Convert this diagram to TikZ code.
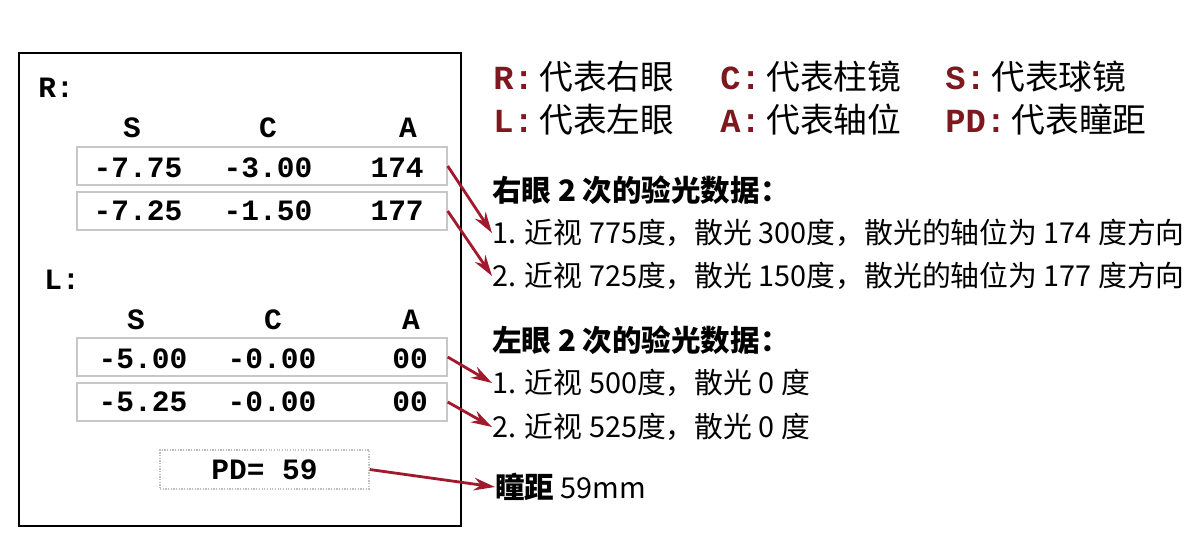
\documentclass[tikz,border=0pt]{standalone}
\usepackage{fontspec}
\usetikzlibrary{arrows.meta}
\newfontfamily\cjkfam{Noto Sans CJK SC}
\newfontfamily\monofam{Liberation Mono}
\newcommand\numfont{\monofam\bfseries\fontsize{21pt}{24pt}\selectfont}
\newcommand\legfont{\cjkfam\fontsize{24pt}{27pt}\selectfont}
\newcommand\txtfont{\cjkfam\fontsize{20.5pt}{23pt}\selectfont}
\newcommand\headfont{\cjkfam\bfseries\fontsize{21pt}{24pt}\selectfont}
\newcommand\key[1]{{\monofam\bfseries\color{keyred}#1}}
\definecolor{keyred}{RGB}{125,25,30}
\definecolor{ptrred}{RGB}{160,25,45}
\tikzset{
  frame/.style={draw=black, line width=1.6pt},
  rowbox/.style={draw=black!22, line width=0.9pt, minimum width=9.25cm, minimum height=0.95cm, inner sep=0pt},
  pdbox/.style={draw=black!25, densely dotted, line width=0.9pt, minimum width=5.225cm, minimum height=0.975cm, inner sep=0pt, font=\numfont},
  num/.style={font=\numfont, inner sep=0pt},
  leg/.style={anchor=west, inner sep=0pt, font=\legfont},
  txt/.style={anchor=west, inner sep=0pt, font=\txtfont},
  ptr/.style={-{Stealth[length=15pt,width=9pt]}, line width=2pt, draw=ptrred}
}
\begin{document}
\begin{tikzpicture}[x=0.025cm,y=-0.025cm]
  \useasboundingbox (0,0) rectangle (1200,543);
  \draw[frame] (19,53) rectangle (461,526);
  \node[num, anchor=west] (R) at (38,88) {R:};
  \node[num] (s1) at (132,128) {S};
  \node[num] (c1) at (268,128) {C};
  \node[num] (a1) at (408,128) {A};
  \node[rowbox] (r1) at (262,166) {};
  \node[rowbox] (r2) at (262,211) {};
  \node[num] at (138,168) {-7.75};
  \node[num] at (268,168) {-3.00};
  \node[num, anchor=east] at (424,168) {174};
  \node[num] at (138,211) {-7.25};
  \node[num] at (268,211) {-1.50};
  \node[num, anchor=east] at (424,211) {177};
  \node[num, anchor=west] (L) at (44,280) {L:};
  \node[num] (s2) at (136,320) {S};
  \node[num] (c2) at (273,320) {C};
  \node[num] (a2) at (411,320) {A};
  \node[rowbox] (r3) at (262,357) {};
  \node[rowbox] (r4) at (262,402) {};
  \node[num] at (143,359) {-5.00};
  \node[num] at (272,359) {-0.00};
  \node[num, anchor=east] at (428,359) {00};
  \node[num] at (143,402) {-5.25};
  \node[num] at (272,402) {-0.00};
  \node[num, anchor=east] at (428,402) {00};
  \node[pdbox] (pd) at (264.5,469.5) {PD= 59};
  \node[leg] (kR) at (493,77) {\key{R:}\,代表右眼};
  \node[leg] (kC) at (720,77) {\key{C:}\,代表柱镜};
  \node[leg] (kS) at (945,77) {\key{S:}\,代表球镜};
  \node[leg] (kL) at (493,120) {\key{L:}\,代表左眼};
  \node[leg] (kA) at (720,120) {\key{A:}\,代表轴位};
  \node[leg] (kP) at (945,120) {\key{PD:}\,代表瞳距};
  \node[txt, font=\headfont] (h1) at (492,190) {右眼 2 次的验光数据：};
  \node[txt] (t1) at (492,233) {1. 近视 775度，散光 300度，散光的轴位为 174 度方向};
  \node[txt] (t2) at (492,276) {2. 近视 725度，散光 150度，散光的轴位为 177 度方向};
  \node[txt, font=\headfont] (h2) at (492,340) {左眼 2 次的验光数据：};
  \node[txt] (t3) at (492,383) {1. 近视 500度，散光 0 度};
  \node[txt] (t4) at (492,427) {2. 近视 525度，散光 0 度};
  \node[txt] (pdt) at (495,487) {{\headfont 瞳距} 59mm};
  \begin{scope}[ptr]
    \draw (r1.east) to (t1.west);
    \draw (r2.east) to (t2.west);
    \draw (r3.east) to (t3.west);
    \draw (r4.east) to (t4.west);
    \draw (pd.east) to (pdt.west);
  \end{scope}
\end{tikzpicture}
\end{document}
